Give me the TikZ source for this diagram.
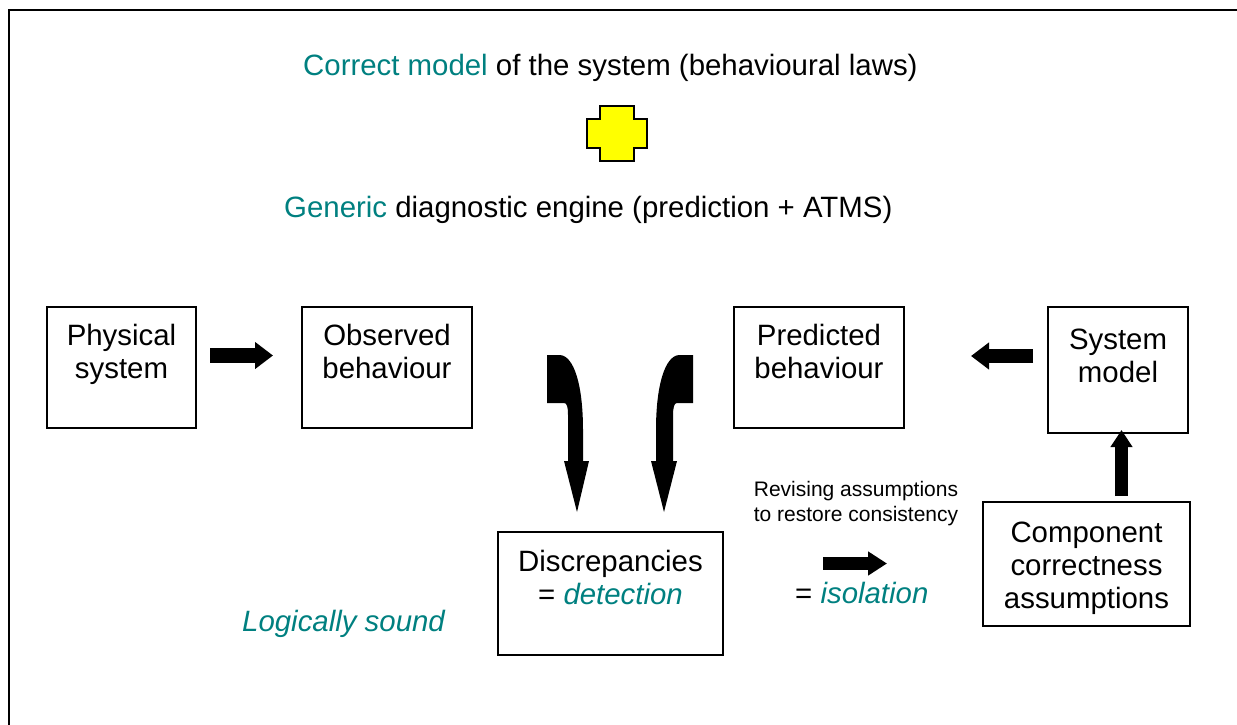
\documentclass[tikz,border=0pt]{standalone}
\usepackage{fontspec}
\setmainfont{Liberation Sans}
\usetikzlibrary{arrows.meta}
\definecolor{accent}{RGB}{0,128,128}
\definecolor{plusyellow}{RGB}{255,255,0}
\begin{document}
\begin{tikzpicture}[x=1pt,y=-1pt,
  box/.style={draw,line width=2pt,inner sep=0pt},
  big/.style={font=\fontsize{29.4}{33}\selectfont,align=center,inner sep=0pt},
  small/.style={font=\fontsize{21}{24.5}\selectfont,align=center,inner sep=0pt},
  blockarrow/.style={line width=#1},
  solidfill/.style={fill=black}]
\useasboundingbox (0,0) rectangle (1237,725);
% frame (top and left edges)
\draw[line width=2pt] (9,725) -- (9,10) -- (1237,10);

% headings
\node[big,anchor=base west] (title) at (303,76)
  {\textcolor{accent}{Correct model} of the system (behavioural laws)};
\node[big,anchor=base west] (engine) at (284,217)
  {\textcolor{accent}{Generic} diagnostic engine (prediction + ATMS)};

% plus sign
\filldraw[fill=plusyellow,draw=black,line width=2.5pt,line join=miter]
  (600,106) -- (634,106) -- (634,119) -- (647,119) -- (647,148) -- (634,148)
  -- (634,161) -- (600,161) -- (600,148) -- (587,148) -- (587,119) -- (600,119) -- cycle;

% boxes
\node[box,minimum width=149pt,minimum height=121pt] (phys) at (121.5,367.5) {};
\node[box,minimum width=170pt,minimum height=121pt] (obs)  at (387,367.5) {};
\node[box,minimum width=170pt,minimum height=121pt] (pred) at (819,367.5) {};
\node[box,minimum width=140pt,minimum height=126pt] (sys)  at (1118,370) {};
\node[box,minimum width=207pt,minimum height=124pt] (comp) at (1086.5,564) {};
\node[box,minimum width=225pt,minimum height=123pt] (disc) at (610.5,593.5) {};

% box texts
\node[big] (physT) at (121.5,354) {Physical\\system};
\node[big] (obsT)  at (387,351) {Observed\\behaviour};
\node[big] (predT) at (819,351) {Predicted\\behaviour};
\node[big] (sysT)  at (1118,356) {System\\model};
\node[big] (compT) at (1086.5,568.5) {Component\\correctness\\assumptions};
\node[big] (discT) at (610.5,577) {Discrepancies\\= \textcolor{accent}{\itshape detection}};

% free labels
\node[small] (revise) at (856,503.5) {Revising assumptions\\to restore consistency};
\node[big,anchor=base west] (isol) at (795,603) {= \textcolor{accent}{\itshape isolation}};
\node[big,anchor=base west,text=accent,font=\fontsize{29.4}{33}\selectfont\itshape] (sound) at (242,631) {Logically sound};

% straight block arrows
\coordinate (a1s) at (210,355.5);  \coordinate (a1e) at (273,355.5);
\coordinate (a2s) at (1033,356);   \coordinate (a2e) at (971,356);
\coordinate (a3s) at (1121.5,496); \coordinate (a3e) at (1121.5,430);
\coordinate (a4s) at (823,563.5);  \coordinate (a4e) at (887,563.5);
\draw[blockarrow=15pt,-{Triangle[width=26pt,length=18pt]}] (a1s) -- (a1e);
\draw[blockarrow=14pt,-{Triangle[width=26pt,length=18pt]}] (a2s) -- (a2e);
\draw[blockarrow=13pt,-{Triangle[width=21pt,length=17pt]}] (a3s) -- (a3e);
\draw[blockarrow=13pt,-{Triangle[width=23pt,length=19pt]}] (a4s) -- (a4e);

% bent arrows into the discrepancies box
\fill[solidfill] (547,355) -- (560,355)
  .. controls (574,356) and (583,385) .. (583,430) -- (583,461)
  -- (589,461) -- (577,512) -- (564,461) -- (568,461) -- (568,415)
  .. controls (568,407) and (567,403) .. (564,403) -- (547,403) -- cycle;
\fill[solidfill] (693,355) -- (693,403) -- (677,403)
  .. controls (674,403) and (673,408) .. (673,416) -- (673,461)
  -- (677,461) -- (664,512) -- (651,461) -- (656,461) -- (656,430)
  .. controls (656,385) and (665,356) .. (679,355) -- cycle;
\end{tikzpicture}
\end{document}
